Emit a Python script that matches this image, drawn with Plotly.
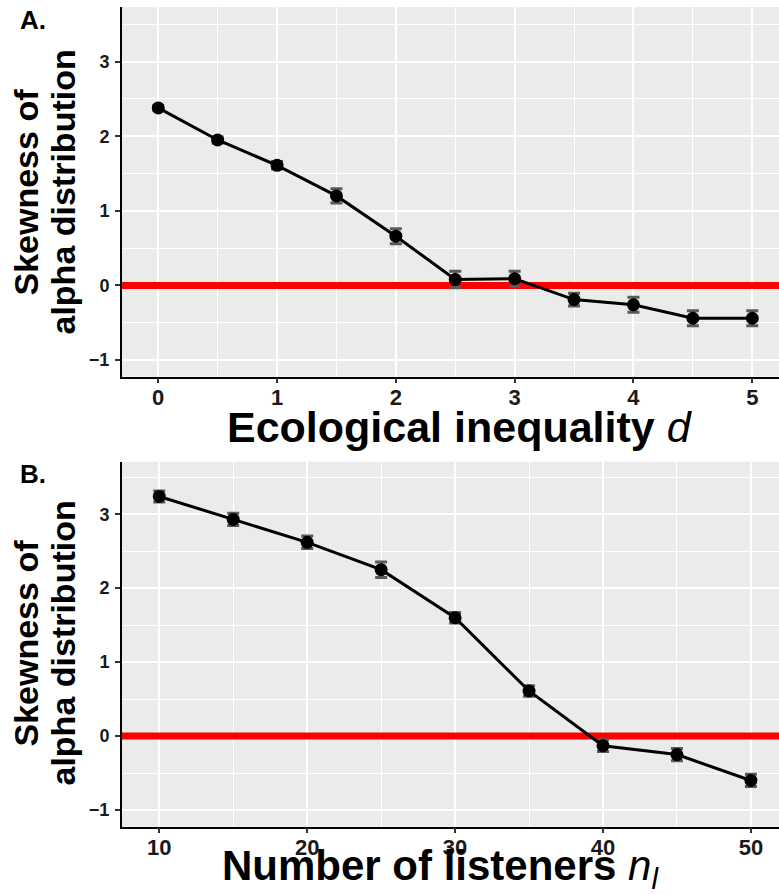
import plotly.graph_objects as go

# Panel A: skewness vs ecological inequality d
ineq_d = [0, 0.5, 1, 1.5, 2, 2.5, 3, 3.5, 4, 4.5, 5]
skew_a = [2.38, 1.95, 1.61, 1.20, 0.66, 0.08, 0.09, -0.19, -0.26, -0.44, -0.44]
err_a = [0.03, 0.04, 0.05, 0.095, 0.10, 0.11, 0.10, 0.085, 0.10, 0.10, 0.10]

# Panel B: skewness vs number of listeners n_l
n_listeners = [10, 15, 20, 25, 30, 35, 40, 45, 50]
skew_b = [3.24, 2.93, 2.62, 2.25, 1.60, 0.61, -0.13, -0.25, -0.60]
err_b = [0.075, 0.083, 0.085, 0.105, 0.072, 0.072, 0.079, 0.083, 0.083]

y_ticks = [-1, 0, 1, 2, 3]
y_labels = ["\u22121", "0", "1", "2", "3"]
x_ticks_a = [0, 1, 2, 3, 4, 5]
x_ticks_b = [10, 20, 30, 40, 50]

x_range_a = [-0.305, 5.225]
x_range_b = [7.48, 51.9]
y_range_a = [-1.224, 3.733]
y_range_b = [-1.225, 3.71]

W, H = 779, 894
FONT = "Liberation Sans, Arial, sans-serif"


def px_x(p):
    return p / W


def px_y(p):
    return 1 - p / H


def bold(labels):
    return ["<b>%s</b>" % s for s in labels]


fig = go.Figure()

# (x values, y values, errors, x range, base x axis, tick x axis, y axis)
panels = [
    (ineq_d, skew_a, err_a, x_range_a, "x", "x3", "y"),
    (n_listeners, skew_b, err_b, x_range_b, "x2", "x4", "y2"),
]
for xs, ys, es, xr, xbase, xtick, ya in panels:
    # zero reference line spanning the whole x range, under the data
    fig.add_trace(go.Scatter(
        x=xr, y=[0, 0], xaxis=xbase, yaxis=ya, mode="lines",
        line=dict(color="#FF0000", width=7),
        showlegend=False, hoverinfo="skip",
    ))
    fig.add_trace(go.Scatter(
        x=xs, y=ys, xaxis=xtick, yaxis=ya, mode="lines+markers",
        line=dict(color="black", width=3),
        marker=dict(color="black", size=13),
        error_y=dict(type="data", array=es, visible=True,
                     color="#5a5a5a", thickness=3, width=6),
        showlegend=False, hoverinfo="skip",
    ))


def minor(step):
    return dict(dtick=step, tick0=0, showgrid=True,
                gridcolor="white", gridwidth=1, ticks="")


def y_axis(dom, anchor, rng):
    return dict(
        domain=dom, anchor=anchor, range=rng,
        tickmode="array", tickvals=y_ticks, ticktext=bold(y_labels),
        showline=True, linecolor="black", linewidth=2, mirror=False,
        ticks="outside", ticklen=5, tickwidth=1.5, tickcolor="#333333",
        tickfont=dict(family=FONT, size=18, color="#1a1a1a"),
        ticklabelstandoff=2,
        showgrid=True, gridcolor="white", gridwidth=1.5, zeroline=False,
        minor=minor(0.5),
    )


def x_axis_labels(dom, anchor, rng, vals, step):
    # grid, axis line and tick labels
    return dict(
        domain=dom, anchor=anchor, range=rng,
        tickmode="array", tickvals=vals,
        ticktext=bold([str(v) for v in vals]),
        showline=True, linecolor="black", linewidth=2, mirror=False,
        ticks="", tickfont=dict(family=FONT, size=22, color="#1a1a1a"),
        showgrid=True, gridcolor="white", gridwidth=1.5, zeroline=False,
        minor=minor(step),
    )


def x_axis_ticks(dom, anchor, over, rng, vals):
    # short outside tick marks on the same scale
    return dict(
        domain=dom, anchor=anchor, overlaying=over, range=rng,
        tickmode="array", tickvals=vals, showticklabels=False,
        ticks="outside", ticklen=5, tickwidth=1.5, tickcolor="#333333",
        showline=False, showgrid=False, zeroline=False,
    )


x_dom = [px_x(122), 1.0]
ya_dom = [px_y(376.7), px_y(7)]
yb_dom = [px_y(826.7), px_y(461.7)]

fig.update_layout(
    width=W, height=H, margin=dict(l=0, r=0, t=0, b=0),
    paper_bgcolor="white", plot_bgcolor="#EBEBEB",
    xaxis=x_axis_labels(x_dom, "y", x_range_a, x_ticks_a, 0.5),
    yaxis=y_axis(ya_dom, "x", y_range_a),
    xaxis2=x_axis_labels(x_dom, "y2", x_range_b, x_ticks_b, 5),
    yaxis2=y_axis(yb_dom, "x2", y_range_b),
    xaxis3=x_axis_ticks(x_dom, "y", "x", x_range_a, x_ticks_a),
    xaxis4=x_axis_ticks(x_dom, "y2", "x2", x_range_b, x_ticks_b),
)

annotations = [
    # panel tags
    dict(text="<b>A.</b>", x=px_x(33), y=px_y(20), size=26),
    dict(text="<b>B.</b>", x=px_x(33), y=px_y(474), size=26),
    # x titles
    dict(text="<b>Ecological inequality</b> <i>d</i>",
         x=px_x(460), y=px_y(426.8), size=43),
    dict(text="<b>Number of listeners</b> <i>n</i><sub><i>l</i></sub>",
         x=px_x(440.5), y=px_y(868), size=42),
]
for a in annotations:
    fig.add_annotation(text=a["text"], x=a["x"], y=a["y"], xref="paper",
                       yref="paper", showarrow=False, xanchor="center",
                       yanchor="middle",
                       font=dict(family=FONT, size=a["size"], color="black"))

# y titles, one annotation per line
for cy in (192, 643):
    for cx, line in ((25.5, "Skewness of"), (62.5, "alpha distribution")):
        fig.add_annotation(text="<b>%s</b>" % line, x=px_x(cx), y=px_y(cy),
                           xref="paper", yref="paper", showarrow=False,
                           textangle=-90, xanchor="center", yanchor="middle",
                           font=dict(family=FONT, size=34, color="black"))

fig.write_html("out.html")
